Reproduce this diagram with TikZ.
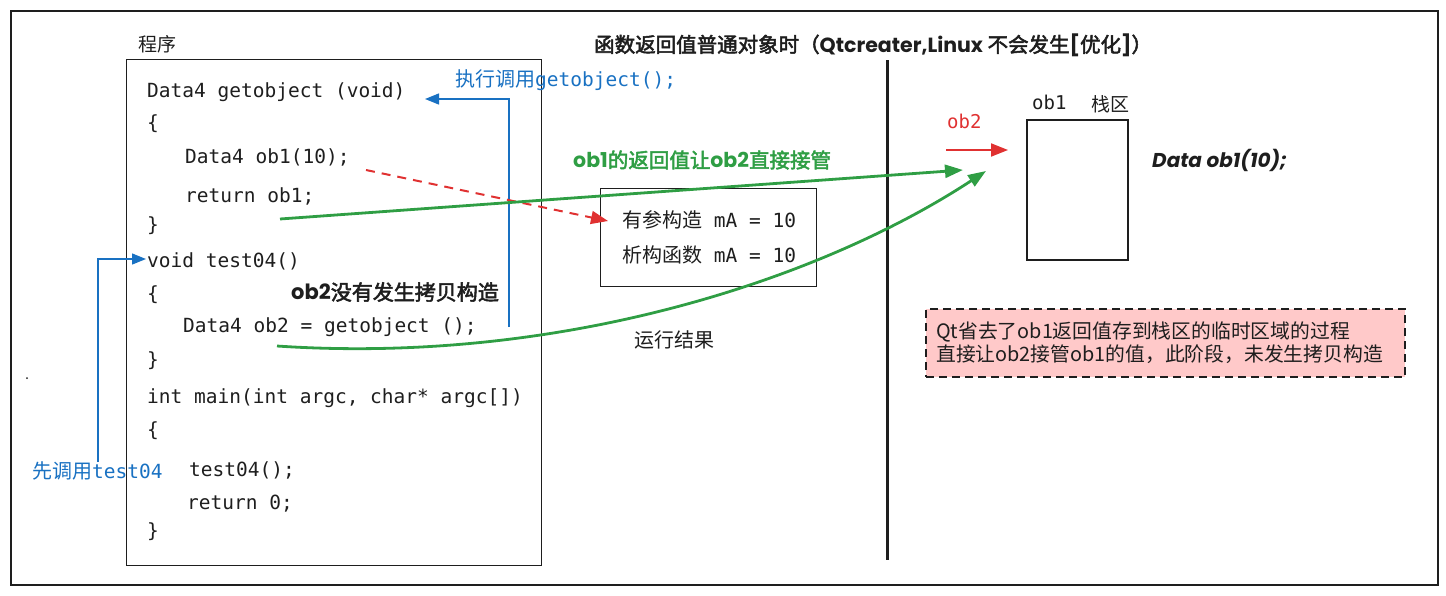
\documentclass[tikz,border=0pt]{standalone}
\usepackage{fontspec}
\setmonofont{DejaVu Sans Mono}
\newfontfamily\cjk{Noto Sans CJK SC}
\newfontfamily\cjkb{Noto Sans CJK SC}[FakeBold=2.5]
\newfontfamily\pop{Poppins}
\usetikzlibrary{arrows.meta}
\definecolor{ink}{HTML}{1E1E1E}
\definecolor{xblue}{HTML}{1971C2}
\definecolor{xred}{HTML}{E03131}
\definecolor{xgreen}{HTML}{2F9E44}
\definecolor{xpink}{HTML}{FFC9C9}
\tikzset{
  code/.style={font=\fontsize{19.5}{23}\selectfont\ttfamily, text=ink, inner sep=0pt, anchor=west, text height=15pt, text depth=4pt},
  cn/.style={font=\fontsize{20}{24}\selectfont\cjk, text=ink, inner sep=0pt, anchor=west},
  box/.style={draw=ink, line width=1.2pt, anchor=north west, inner sep=0pt},
  bluearr/.style={draw=xblue, line width=1.3pt, -{Triangle[length=14pt,width=11pt]}},
  greenarr/.style={draw=xgreen, line width=2.8pt, -{Triangle[length=18pt,width=13pt]}},
  redarr/.style={draw=xred, line width=2pt, -{Triangle[length=17pt,width=13pt]}},
}
\begin{document}
\begin{tikzpicture}[x=1pt,y=-1pt]
\useasboundingbox (0,0) rectangle (1446,595);
% outer frame
\node[box, line width=1.5pt, minimum width=1427pt, minimum height=574pt] (frame) at (10,10) {};
\fill[ink] (27,378) circle (1pt);
% program box
\node[cn, font=\fontsize{19}{23}\selectfont\cjk] (proglbl) at (138,44) {程序};
\node[box, minimum width=415pt, minimum height=506pt] (prog) at (126,59) {};
% code lines
\node[code] (l1) at (147,92) {Data4 getobject (void)};
\node[code] (l2) at (147,124) {\{};
\node[code] (l3) at (185,158) {Data4 ob1(10);};
\node[code] (l4) at (185,197) {return ob1;};
\node[code] (l5) at (147,226) {\}};
\node[code] (l6) at (147,262) {void test04()};
\node[code] (l7) at (147,295) {\{};
\node[code] (l8) at (183,327) {Data4 ob2 = getobject ();};
\node[code] (l9) at (147,361) {\}};
\node[code] (l10) at (147,398) {int main(int argc, char* argc[])};
\node[code] (l11) at (147,431) {\{};
\node[code] (l12) at (189,471) {test04();};
\node[code] (l13) at (187,504) {return 0;};
\node[code] (l14) at (147,532) {\}};
% title
\node[inner sep=0pt, anchor=west, text=ink] (title) at (594,45)
  {\fontsize{20.5}{24}\selectfont\cjkb 函数返回值普通对象时（{\pop\bfseries Qtcreater,Linux} 不会发生{\pop\bfseries [}优化{\pop\bfseries ]}）};
% blue labels
\node[cn, text=xblue] (lblexec) at (455,80) {执行调用{\fontsize{19.5}{23}\selectfont\ttfamily getobject();}};
\node[cn, text=xblue] (lblfirst) at (32,471) {先调用{\fontsize{19.5}{23}\selectfont\ttfamily test04}};
% green / black labels
\node[inner sep=0pt, anchor=west, text=xgreen] (lblgreen) at (573,160)
  {\fontsize{20.5}{24}\selectfont{\pop\bfseries ob1}{\cjkb 的返回值让}{\pop\bfseries ob2}{\cjkb 直接接管}};
\node[inner sep=0pt, anchor=west, text=ink] (lblblack) at (291,292)
  {\fontsize{21}{25}\selectfont{\pop\bfseries ob2}{\cjkb 没有发生拷贝构造}};
% result box
\node[box, minimum width=216pt, minimum height=98pt] (res) at (600,188) {};
\node[cn] (r1) at (622,220) {有参构造{\fontsize{19.5}{23}\selectfont\ttfamily\ mA = 10}};
\node[cn] (r2) at (622,255) {析构函数{\fontsize{19.5}{23}\selectfont\ttfamily\ mA = 10}};
\node[cn] (reslbl) at (634,340) {运行结果};
% divider
\coordinate (dtop) at (887,60);
\coordinate (dbot) at (887,560);
\draw[ink, line width=3pt] (dtop) -- (dbot);
% stack
\node[box, line width=2pt, minimum width=101pt, minimum height=140pt] (stack) at (1026,119) {};
\node[code, font=\fontsize{19}{23}\selectfont\ttfamily] (ob1lbl) at (1032,104) {ob1};
\node[cn, font=\fontsize{19}{23}\selectfont\cjk] (zhan) at (1091,104) {栈区};
\node[code, font=\fontsize{19}{23}\selectfont\ttfamily, text=xred] (ob2lbl) at (947,123) {ob2};
\node[inner sep=0pt, anchor=west, text=ink] (dataob) at (1152,160) {\fontsize{20}{24}\selectfont\pop\bfseries\itshape Data ob1(10);};
% pink note
\node[draw=ink, fill=xpink, line width=2pt, dash pattern=on 8pt off 5pt, anchor=north west, minimum width=479pt, minimum height=68pt, inner sep=0pt] (note) at (925,308) {};
\node[anchor=west, inner sep=0pt, align=left, text=ink, font=\fontsize{19.8}{23}\selectfont\cjk] (notetxt) at (936,343)
  {Qt省去了ob1返回值存到栈区的临时区域的过程\\直接让ob2接管ob1的值，此阶段，未发生拷贝构造};
% connectors
\coordinate (b1s) at (509,327);
\coordinate (b1e) at (425,99);
\draw[bluearr] (b1s) |- (b1e);
\coordinate (b2s) at (98,462);
\coordinate (b2e) at (146,259);
\draw[bluearr] (b2s) |- (b2e);
\coordinate (rs) at (366,170);
\coordinate (re) at (608,221);
\draw[redarr, dash pattern=on 9pt off 7pt] (rs) -- (re);
\coordinate (g1s) at (280,219);
\coordinate (g1e) at (963,170);
\draw[greenarr] (g1s) -- (g1e);
\coordinate (g2s) at (277,346);
\coordinate (g2e) at (986,171);
\draw[greenarr] (g2s) .. controls (560,365) and (820,280) .. (g2e);
\coordinate (o2s) at (946,150);
\coordinate (o2e) at (1008,150);
\draw[redarr] (o2s) -- (o2e);
\end{tikzpicture}
\end{document}
